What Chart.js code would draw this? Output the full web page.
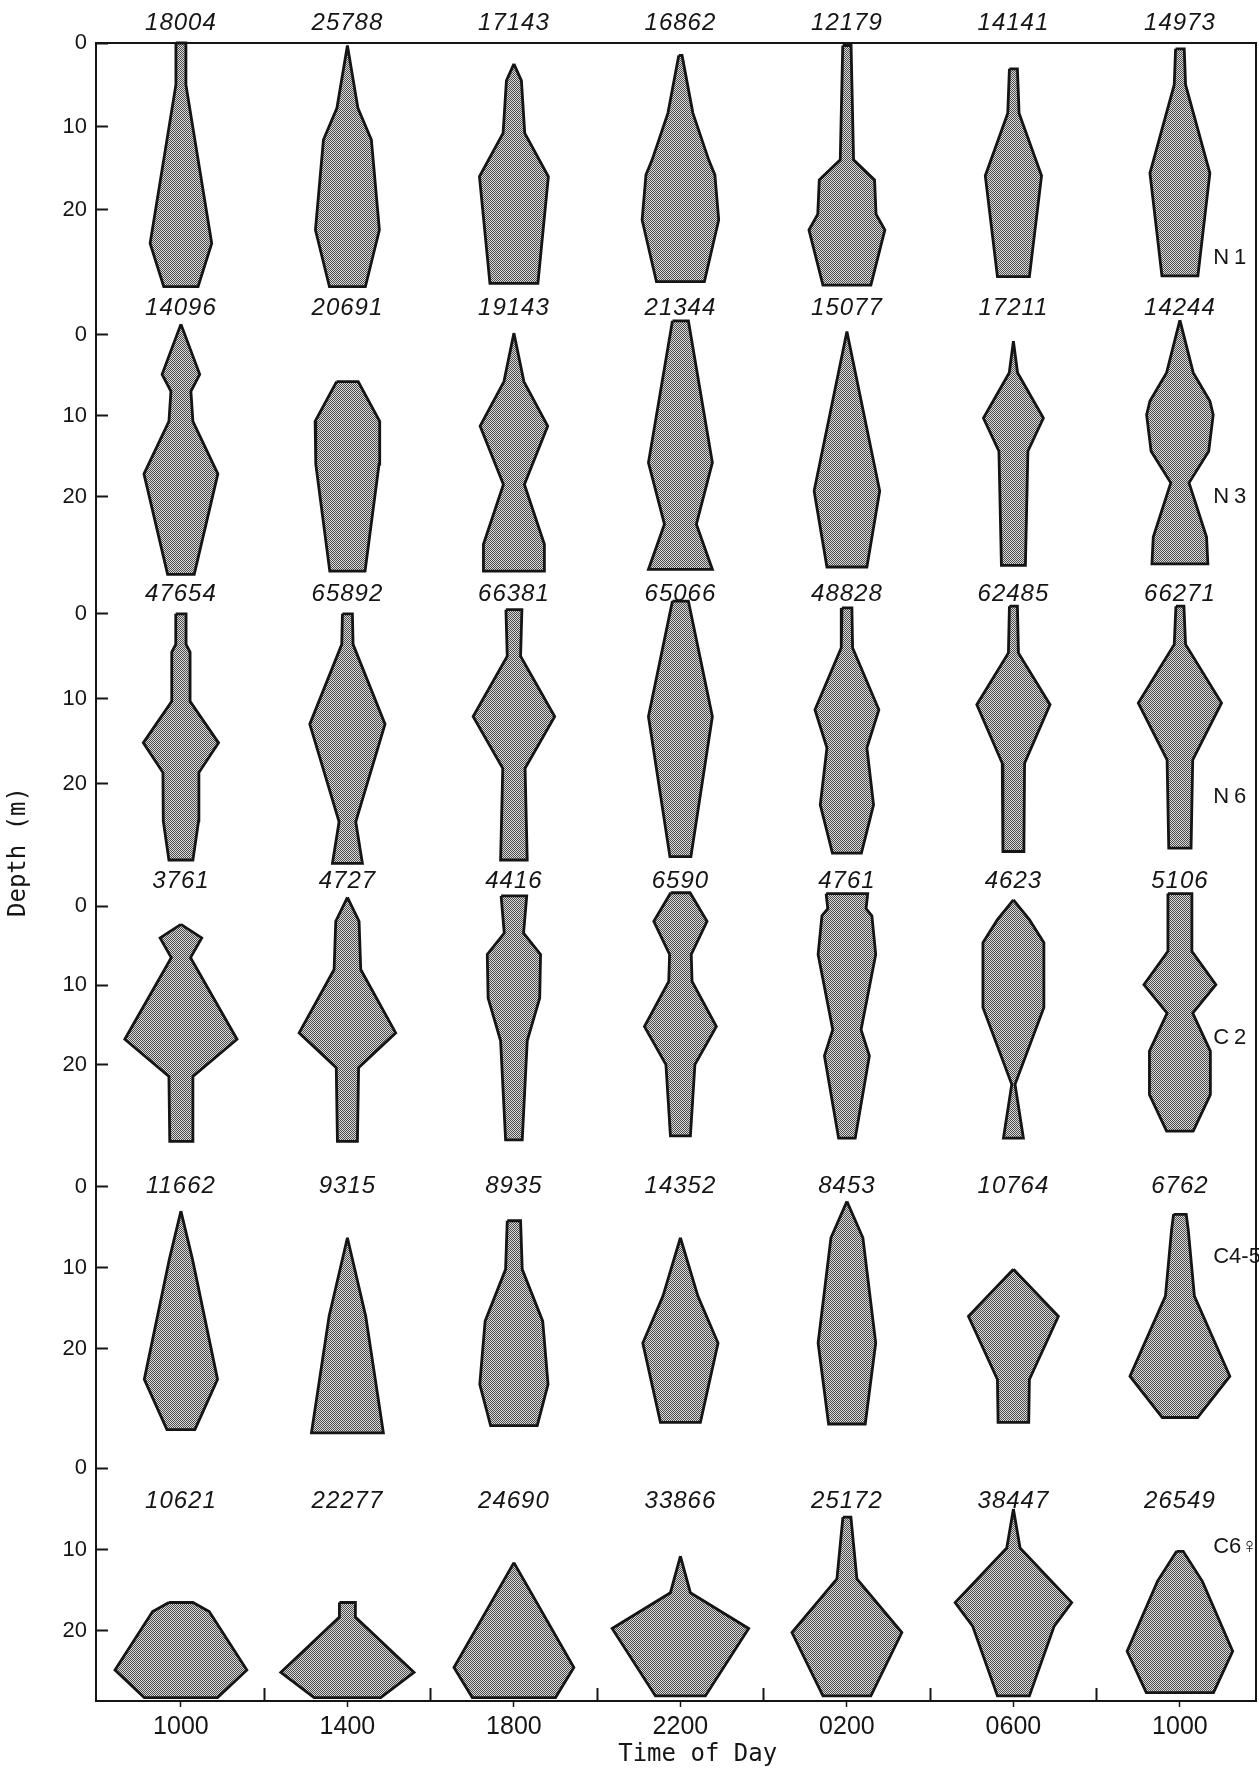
<!DOCTYPE html>
<html>
<head>
<meta charset="utf-8">
<script src="https://cdn.jsdelivr.net/npm/chart.js@4.4.1/dist/chart.umd.min.js"></script>
<style>
  html, body { margin: 0; padding: 0; background: #fff; }
</style>
</head>
<body>
<canvas id="kites" width="1259" height="1773"></canvas>
<script>
const times = ['1000', '1400', '1800', '2200', '0200', '0600', '1000'];
const stages = ['N1', 'N3', 'N6', 'C2', 'C4-5', 'C6♀'];
const depthTicks = [0, 10, 20];

// totals printed above each kite
const totalsN1 = [18004, 25788, 17143, 16862, 12179, 14141, 14973];
const totalsN3 = [14096, 20691, 19143, 21344, 15077, 17211, 14244];
const totalsN6 = [47654, 65892, 66381, 65066, 48828, 62485, 66271];
const totalsC2 = [3761, 4727, 4416, 6590, 4761, 4623, 5106];
const totalsC45 = [11662, 9315, 8935, 14352, 8453, 10764, 6762];
const totalsC6F = [10621, 22277, 24690, 33866, 25172, 38447, 26549];

// kite outlines, top to bottom: [depth (m), half-width (% of column spacing)]
const kitesN1 = [
  [[0, 3], [5, 3], [24, 18.5], [29.2, 10.3]],
  [[0.3, 0], [7.8, 6.3], [11.6, 14.4], [22.4, 19.2], [29.2, 10.8]],
  [[2.5, 0], [4.5, 4.5], [10.8, 6.5], [16, 20.7], [28.8, 14.4]],
  [[1.5, 1], [8.4, 7.5], [14, 17], [15.8, 20.7], [21.2, 23], [28.6, 14.4]],
  [[0.3, 2.5], [14, 4], [16.4, 16.6], [20.5, 17.5], [22.4, 22.8], [29, 14.4]],
  [[3.1, 2.4], [8.4, 3.4], [15.9, 16.9], [28, 9.6]],
  [[0.7, 2.6], [5, 3.4], [15.6, 18], [27.9, 10.8]]
];
const kitesN3 = [
  [[-1.3, 0], [4.9, 11.3], [7, 6], [10.7, 7.2], [17.2, 22.2], [29.6, 8]],
  [[5.8, 6.5], [10.7, 19.4], [16, 19], [29.2, 10.6]],
  [[-0.2, 0], [5.8, 6], [11.3, 20.3], [18.5, 6.3], [25.9, 18.3], [29.2, 18.3]],
  [[-1.7, 4.8], [15.8, 19.2], [23.4, 9.6], [29, 19.2]],
  [[-0.4, 0], [19.3, 19.7], [28.7, 12]],
  [[0.8, 0], [4.7, 2.5], [10.3, 18], [14.4, 8.7], [28.5, 7.2]],
  [[-1.8, 0], [4.7, 8], [8.2, 18], [9.9, 20], [14.4, 17.3], [18.3, 5.5], [25, 16], [28.3, 16.8]]
];
const kitesN6 = [
  [[0, 3.1], [3.6, 3.1], [4.5, 5.5], [10.3, 5.5], [15.2, 22.6], [18.7, 10.8], [24.4, 10.6], [29, 7.2]],
  [[0, 3], [3.6, 3.4], [13, 22.6], [24.5, 5], [29.4, 9]],
  [[-0.5, 4.8], [5, 4], [12.1, 24.5], [18.2, 6.7], [29, 8]],
  [[-1.5, 4.8], [12.1, 19.2], [28.6, 6.3]],
  [[-0.7, 3], [4, 3.4], [11.3, 19.2], [15.8, 12], [22.5, 16], [28.2, 8.7]],
  [[-0.9, 2.4], [4.6, 3], [10.7, 22], [17.6, 6.7], [28, 6.3]],
  [[-0.9, 2.4], [3.6, 3.4], [10.5, 25], [17.2, 7.7], [27.6, 6.7]]
];
const kitesC2 = [
  [[2.3, 0], [4, 12.5], [6.5, 5.8], [16.8, 33.7], [21.5, 7.2], [29.7, 6.7]],
  [[-1.1, 0], [1.9, 7], [8, 8], [16, 29], [20.4, 6.7], [29.7, 6]],
  [[-1.3, 7.7], [3.4, 5.8], [6.1, 16], [11.6, 15.5], [17, 8], [29.5, 5]],
  [[-1.7, 5.8], [1.9, 16], [6.1, 6.5], [9.5, 7], [15.2, 21.6], [20, 8.7], [29, 6]],
  [[-1.6, 12.5], [0.3, 11.5], [1.2, 15], [6.1, 17.3], [15.6, 8.5], [18.9, 13.5], [29.3, 5]],
  [[-0.8, 0], [1.7, 9.6], [4.6, 18.3], [12.8, 18.3], [22.5, 1], [29.3, 6]],
  [[-1.6, 7.2], [5.7, 7.2], [9.9, 21.6], [13.5, 7.7], [18.3, 18.3], [23.8, 18.3], [28.4, 8]]
];
const kitesC45 = [
  [[3, 0], [9, 7], [23.8, 22], [30, 8.4]],
  [[6.3, 0], [16, 11], [30.4, 21.6]],
  [[4.2, 4], [10.2, 5], [16.6, 17.3], [24.4, 20.5], [29.5, 14]],
  [[6.3, 0], [13.5, 10.5], [19.3, 22.6], [29.1, 12]],
  [[1.8, 0], [6.3, 9.6], [19.3, 17.3], [29.3, 11]],
  [[10.2, 0], [16, 27], [23.8, 9.6], [29.1, 9.2]],
  [[3.4, 3.8], [5.3, 5], [13.5, 8.7], [23.4, 30], [28.5, 10.6]]
];
const kitesC6F = [
  [[16.5, 7.2], [17.6, 17], [24.8, 39.6], [28.2, 22]],
  [[16.5, 4.8], [18.3, 4.8], [25.1, 40], [28.2, 20]],
  [[11.6, 0], [24.5, 36], [28.2, 25]],
  [[10.8, 0], [15.3, 6], [19.7, 41], [28, 15]],
  [[6, 2.4], [13.6, 6], [20.2, 33], [28, 14.4]],
  [[5, 0], [9.8, 4], [16.5, 35], [19.4, 24.5], [28, 9.6]],
  [[10.2, 2], [13.9, 13.5], [22.5, 31.7], [27.6, 20.2]]
];

const rows = [
  { stage: stages[0], totals: totalsN1, kites: kitesN1 },
  { stage: stages[1], totals: totalsN3, kites: kitesN3 },
  { stage: stages[2], totals: totalsN6, kites: kitesN6 },
  { stage: stages[3], totals: totalsC2, kites: kitesC2 },
  { stage: stages[4], totals: totalsC45, kites: kitesC45 },
  { stage: stages[5], totals: totalsC6F, kites: kitesC6F }
];

// layout of the six stacked depth axes (each panel has its own 0-20 m scale)
const panels = [
  { min: 0, max: 29.55, weight: 246.7, totalsAt: -2.4, stageAt: 25.7 },
  { min: -5.56, max: 29.88, weight: 287, totalsAt: -3.3, stageAt: 20 },
  { min: -4.39, max: 29.65, weight: 289, totalsAt: -2.3, stageAt: 21.6 },
  { min: -5.14, max: 30.34, weight: 281, totalsAt: -3.2, stageAt: 16.6 },
  { min: -4.98, max: 30.83, weight: 290, totalsAt: 0, stageAt: 8.7 },
  { min: -3.94, max: 28.62, weight: 264.7, totalsAt: 4.0, stageAt: 9.7 }
];
const X_MIN = -0.51, X_MAX = 6.457;
const INK = '#151515';

// stippled grey like the original screen tone
function stipple() {
  const c = document.createElement('canvas');
  c.width = 2; c.height = 2;
  const g = c.getContext('2d');
  g.fillStyle = '#dadada';
  g.fillRect(0, 0, 2, 2);
  g.fillStyle = '#4c4c4c';
  g.fillRect(0, 0, 1, 1);
  g.fillRect(1, 1, 1, 1);
  return g.createPattern(c, 'repeat');
}
const tone = stipple();

const datasets = [];
rows.forEach((row, r) => {
  row.kites.forEach((kite, i) => {
    const left = kite.map(([d, w]) => ({ x: i - w / 100, y: d }));
    const right = kite.slice().reverse().map(([d, w]) => ({ x: i + w / 100, y: d }));
    datasets.push({
      label: row.stage + ' ' + times[i],
      data: [...left, ...right, left[0]],
      xAxisID: 'x',
      yAxisID: 'y' + r,
      showLine: true,
      fill: 'shape',
      backgroundColor: tone,
      borderColor: INK,
      borderWidth: 2.8,
      borderJoinStyle: 'miter',
      pointRadius: 0,
      pointHoverRadius: 0,
      clip: false
    });
  });
});

const scales = {
  x: {
    type: 'linear', position: 'bottom', min: X_MIN, max: X_MAX,
    afterBuildTicks: s => { s.ticks = times.map((t, i) => ({ value: i })); },
    ticks: {
      callback: (v, i) => times[i],
      font: { family: 'Liberation Sans', size: 25 }, color: INK, padding: 5,
      maxRotation: 0, autoSkip: false
    },
    grid: { drawOnChartArea: false, tickLength: 6, tickWidth: 1.5, tickColor: INK },
    border: { color: INK, width: 2 },
    title: {
      display: true, text: '   Time of Day', color: INK,
      font: { family: 'DejaVu Sans Mono', size: 24 }, padding: { top: 0, bottom: 4 }
    },
    afterFit: s => { s.height = 72; }
  },
  // inward tick marks between the sampling times
  xt: {
    type: 'linear', axis: 'x', position: { y5: panels[5].max }, min: X_MIN, max: X_MAX,
    afterBuildTicks: s => { s.ticks = times.slice(1).map((t, i) => ({ value: i + 0.5 })); },
    ticks: { display: false },
    grid: { drawOnChartArea: false, tickLength: -13, tickWidth: 2, tickColor: INK },
    border: { display: false }
  },
  xtop: {
    type: 'linear', axis: 'x', position: 'top', min: X_MIN, max: X_MAX,
    ticks: { display: false }, grid: { display: false },
    border: { display: true, color: INK, width: 2 },
    afterFit: s => { s.height = 0; }
  },
  yright: {
    type: 'linear', axis: 'y', position: 'right', min: 0, max: 1,
    ticks: { display: false }, grid: { display: false },
    border: { display: true, color: INK, width: 2 },
    afterFit: s => { s.width = 0; }
  }
};
panels.forEach((p, r) => {
  scales['y' + r] = {
    type: 'linear', axis: 'y', position: 'left', stack: 'depth', stackWeight: p.weight,
    weight: panels.length - r, // first panel on top
    reverse: true, min: p.min, max: p.max,
    afterBuildTicks: s => { s.ticks = depthTicks.map(v => ({ value: v })); },
    ticks: { font: { family: 'Liberation Sans', size: 22 }, color: INK, padding: 21 },
    grid: { drawOnChartArea: false, tickLength: -12, tickWidth: 2, tickColor: INK },
    border: { color: INK, width: 2 },
    afterFit: s => { s.width = 96; }
  };
});

const kiteText = {
  id: 'kiteText',
  afterDatasetsDraw(chart) {
    const { ctx, chartArea } = chart;
    const xs = chart.scales.x;
    ctx.save();
    ctx.fillStyle = INK;
    ctx.textBaseline = 'middle';
    rows.forEach((row, r) => {
      const ys = chart.scales['y' + r];
      ctx.font = 'italic 24px "Liberation Sans"';
      ctx.letterSpacing = '1px';
      ctx.textAlign = 'center';
      row.totals.forEach((t, i) => {
        ctx.fillText(String(t), xs.getPixelForValue(i), ys.getPixelForValue(panels[r].totalsAt));
      });
      ctx.font = '22px "Liberation Sans"';
      ctx.letterSpacing = row.stage.length === 2 ? '5px' : '0px';
      ctx.textAlign = 'left';
      ctx.fillText(row.stage, xs.getPixelForValue(6.2), ys.getPixelForValue(panels[r].stageAt));
    });
    ctx.letterSpacing = '0px';
    ctx.font = '24px "DejaVu Sans Mono"';
    ctx.textAlign = 'center';
    ctx.translate(19, (chartArea.top + chartArea.bottom) / 2 - 20);
    ctx.rotate(-Math.PI / 2);
    ctx.fillText('Depth (m)', 0, 0);
    ctx.restore();
  }
};

new Chart(document.getElementById('kites'), {
  type: 'scatter',
  data: { datasets },
  options: {
    responsive: false,
    animation: false,
    events: [],
    layout: { padding: { top: 43, right: 3, left: 0, bottom: 0 } },
    plugins: { legend: { display: false }, tooltip: { enabled: false } },
    scales
  },
  plugins: [kiteText]
});
</script>
</body>
</html>
